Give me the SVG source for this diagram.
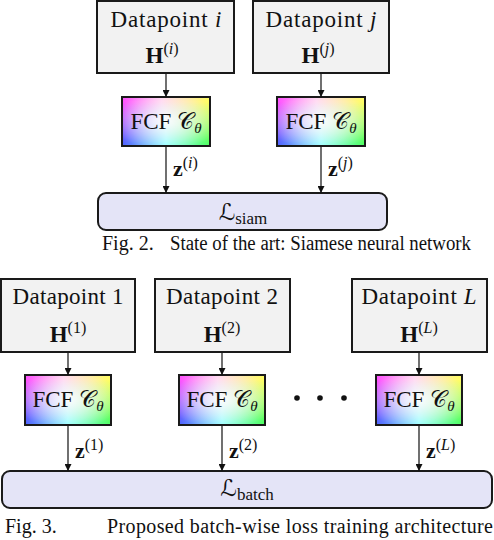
<svg xmlns="http://www.w3.org/2000/svg" width="494" height="540" viewBox="0 0 494 540">
<style>
text{font-family:"Liberation Serif","Times New Roman",serif;fill:#111;}
.dp{fill:#f2f2f2;stroke:#1a1a1a;stroke-width:2;}
.loss{fill:#e4e4f7;stroke:#1a1a1a;stroke-width:2;}
.fb{fill:none;stroke:#1a1a1a;stroke-width:2;}
.t21{font-size:23px;}
.cap{font-size:20px;}
.conn line{stroke:#111;stroke-width:1.2;marker-end:url(#arr);}
.it{font-style:italic;}
.bf{font-weight:bold;}
.cal{font-family:"DejaVu Serif","DejaVu Sans","Noto Sans",serif;font-style:normal;}
</style>
<defs>
<marker id="arr" viewBox="0 0 10 10" refX="10" refY="5" markerWidth="7" markerHeight="7" markerUnits="userSpaceOnUse" orient="auto">
<path d="M0,0 L10,5 L0,10 z" fill="#111"/>
</marker>
<linearGradient id="gTop" x1="0" y1="0" x2="1" y2="0">
<stop offset="0" stop-color="#ff50ff"/>
<stop offset="0.45" stop-color="#ffd0ee"/>
<stop offset="1" stop-color="#ffff60"/>
</linearGradient>
<linearGradient id="gBot" x1="0" y1="0" x2="1" y2="0">
<stop offset="0" stop-color="#5060ff"/>
<stop offset="0.5" stop-color="#90ffff"/>
<stop offset="1" stop-color="#50ff60"/>
</linearGradient>
<linearGradient id="gV" x1="0" y1="0" x2="0" y2="1">
<stop offset="0.1" stop-color="#000"/>
<stop offset="0.95" stop-color="#fff"/>
</linearGradient>
<mask id="mV" maskContentUnits="objectBoundingBox">
<rect x="0" y="0" width="1" height="1" fill="url(#gV)"/>
</mask>
<radialGradient id="gW" cx="0.5" cy="0.5" r="0.6">
<stop offset="0" stop-color="#fff" stop-opacity="0.9"/>
<stop offset="1" stop-color="#fff" stop-opacity="0"/>
</radialGradient>
</defs>

<!-- Figure 2 -->
<g id="dp-i">
<rect class="dp" x="97" y="1" width="137" height="72"/>
<text class="t21" x="166" y="27" text-anchor="middle" textLength="111" lengthAdjust="spacing">Datapoint <tspan class="it">i</tspan></text>
<text x="162" y="63" text-anchor="middle"><tspan class="bf" font-size="23">H</tspan><tspan font-size="16" dy="-9">(</tspan><tspan font-size="16" class="it">i</tspan><tspan font-size="16">)</tspan></text>
</g>
<g id="dp-j">
<rect class="dp" x="253" y="1" width="136" height="72"/>
<text class="t21" x="321" y="27" text-anchor="middle" textLength="111" lengthAdjust="spacing">Datapoint <tspan class="it">j</tspan></text>
<text x="318" y="63" text-anchor="middle"><tspan class="bf" font-size="23">H</tspan><tspan font-size="16" dy="-9">(</tspan><tspan font-size="16" class="it">j</tspan><tspan font-size="16">)</tspan></text>
</g>
<g id="fcf-i">
<rect x="122" y="97" width="88" height="49" fill="url(#gTop)"/>
<rect x="122" y="97" width="88" height="49" fill="url(#gBot)" mask="url(#mV)"/>
<rect x="122" y="97" width="88" height="49" fill="url(#gW)"/>
<rect class="fb" x="122" y="97" width="88" height="49"/>
<text class="t21" x="166" y="129" text-anchor="middle">FCF <tspan class="cal">𝒞</tspan><tspan class="it" font-size="15" dy="4">θ</tspan></text>
</g>
<g id="fcf-j">
<rect x="277" y="97" width="88" height="49" fill="url(#gTop)"/>
<rect x="277" y="97" width="88" height="49" fill="url(#gBot)" mask="url(#mV)"/>
<rect x="277" y="97" width="88" height="49" fill="url(#gW)"/>
<rect class="fb" x="277" y="97" width="88" height="49"/>
<text class="t21" x="321" y="129" text-anchor="middle">FCF <tspan class="cal">𝒞</tspan><tspan class="it" font-size="15" dy="4">θ</tspan></text>
</g>
<g id="loss-siam">
<rect class="loss" x="98" y="193" width="289" height="37" rx="8"/>
<text x="243" y="220" text-anchor="middle"><tspan class="cal" font-size="23">ℒ</tspan><tspan font-size="17" dy="4">siam</tspan></text>
</g>
<g id="z-labels-2">
<text x="173" y="176"><tspan class="bf" font-size="22">z</tspan><tspan font-size="16" dy="-8">(</tspan><tspan font-size="16" class="it">i</tspan><tspan font-size="16">)</tspan></text>
<text x="328" y="176"><tspan class="bf" font-size="22">z</tspan><tspan font-size="16" dy="-8">(</tspan><tspan font-size="16" class="it">j</tspan><tspan font-size="16">)</tspan></text>
</g>
<text class="cap" x="102" y="250">Fig. 2.</text>
<text class="cap" x="170" y="250" textLength="301" lengthAdjust="spacingAndGlyphs">State of the art: Siamese neural network</text>

<!-- Figure 3 -->
<g id="dp-1">
<rect class="dp" x="1" y="279" width="134" height="73"/>
<text class="t21" x="68" y="304" text-anchor="middle" textLength="111" lengthAdjust="spacing">Datapoint 1</text>
<text x="68" y="342" text-anchor="middle"><tspan class="bf" font-size="23">H</tspan><tspan font-size="16" dy="-9">(1)</tspan></text>
</g>
<g id="dp-2">
<rect class="dp" x="155" y="279" width="135" height="73"/>
<text class="t21" x="222" y="304" text-anchor="middle" textLength="112" lengthAdjust="spacing">Datapoint 2</text>
<text x="222" y="342" text-anchor="middle"><tspan class="bf" font-size="23">H</tspan><tspan font-size="16" dy="-9">(2)</tspan></text>
</g>
<g id="dp-L">
<rect class="dp" x="352" y="279" width="135" height="73"/>
<text class="t21" x="419" y="304" text-anchor="middle" textLength="115" lengthAdjust="spacing">Datapoint <tspan class="it">L</tspan></text>
<text x="419" y="342" text-anchor="middle"><tspan class="bf" font-size="23">H</tspan><tspan font-size="16" dy="-9">(</tspan><tspan font-size="16" class="it">L</tspan><tspan font-size="16">)</tspan></text>
</g>
<g id="fcf-1">
<rect x="25" y="375" width="86" height="50" fill="url(#gTop)"/>
<rect x="25" y="375" width="86" height="50" fill="url(#gBot)" mask="url(#mV)"/>
<rect x="25" y="375" width="86" height="50" fill="url(#gW)"/>
<rect class="fb" x="25" y="375" width="86" height="50"/>
<text class="t21" x="68" y="407" text-anchor="middle">FCF <tspan class="cal">𝒞</tspan><tspan class="it" font-size="15" dy="4">θ</tspan></text>
</g>
<g id="fcf-2">
<rect x="179" y="375" width="86" height="50" fill="url(#gTop)"/>
<rect x="179" y="375" width="86" height="50" fill="url(#gBot)" mask="url(#mV)"/>
<rect x="179" y="375" width="86" height="50" fill="url(#gW)"/>
<rect class="fb" x="179" y="375" width="86" height="50"/>
<text class="t21" x="222" y="407" text-anchor="middle">FCF <tspan class="cal">𝒞</tspan><tspan class="it" font-size="15" dy="4">θ</tspan></text>
</g>
<g id="fcf-L">
<rect x="376" y="375" width="86" height="50" fill="url(#gTop)"/>
<rect x="376" y="375" width="86" height="50" fill="url(#gBot)" mask="url(#mV)"/>
<rect x="376" y="375" width="86" height="50" fill="url(#gW)"/>
<rect class="fb" x="376" y="375" width="86" height="50"/>
<text class="t21" x="419" y="407" text-anchor="middle">FCF <tspan class="cal">𝒞</tspan><tspan class="it" font-size="15" dy="4">θ</tspan></text>
</g>
<g id="dots" fill="#111">
<circle cx="297" cy="398" r="2.8"/>
<circle cx="320" cy="398" r="2.8"/>
<circle cx="344" cy="398" r="2.8"/>
</g>
<g id="loss-batch">
<rect class="loss" x="2" y="471" width="490" height="37" rx="8"/>
<text x="247" y="496" text-anchor="middle"><tspan class="cal" font-size="23">ℒ</tspan><tspan font-size="17" dy="4">batch</tspan></text>
</g>
<g id="z-labels-3">
<text x="75" y="458"><tspan class="bf" font-size="22">z</tspan><tspan font-size="16" dy="-8">(1)</tspan></text>
<text x="229" y="458"><tspan class="bf" font-size="22">z</tspan><tspan font-size="16" dy="-8">(2)</tspan></text>
<text x="426" y="458"><tspan class="bf" font-size="22">z</tspan><tspan font-size="16" dy="-8">(</tspan><tspan font-size="16" class="it">L</tspan><tspan font-size="16">)</tspan></text>
</g>
<text class="cap" x="5" y="533" font-size="21">Fig. 3.</text>
<text class="cap" x="107" y="533" textLength="386" lengthAdjust="spacing">Proposed batch-wise loss training architecture</text>

<g id="connectors" class="conn">
<line x1="166" y1="74" x2="166" y2="97"/>
<line x1="321" y1="74" x2="321" y2="97"/>
<line x1="166" y1="147" x2="166" y2="193"/>
<line x1="321" y1="147" x2="321" y2="193"/>
<line x1="68" y1="353" x2="68" y2="375"/>
<line x1="222" y1="353" x2="222" y2="375"/>
<line x1="419" y1="353" x2="419" y2="375"/>
<line x1="68" y1="426" x2="68" y2="471"/>
<line x1="222" y1="426" x2="222" y2="471"/>
<line x1="419" y1="426" x2="419" y2="471"/>
</g>
</svg>
